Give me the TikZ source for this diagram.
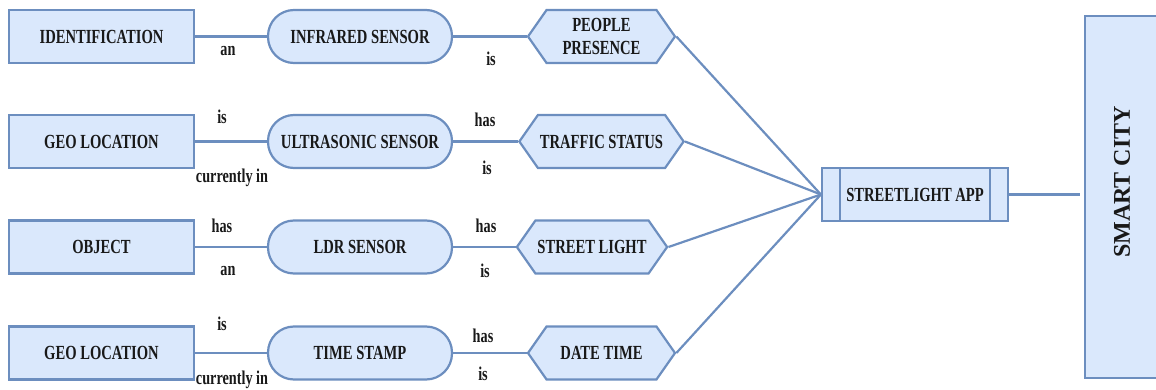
\documentclass[tikz,border=0pt]{standalone}
\usepackage{fontspec}
\usetikzlibrary{shapes.symbols}
\newfontfamily\diagfont{Liberation Serif}[FakeStretch=0.73]
\newfontfamily\cityfont{Liberation Serif}
\definecolor{boxfill}{HTML}{DAE8FC}
\definecolor{boxline}{HTML}{6C8EBF}
\tikzset{
  base/.style={draw=boxline, fill=boxfill, line width=2.2pt, inner sep=2pt,
    font=\diagfont\fontsize{20}{21}\selectfont\bfseries, text=black!90},
  plainbox/.style={base, rectangle, minimum width=185pt, minimum height=53pt},
  sensor/.style={base, rectangle, rounded corners=26pt, minimum width=184pt, minimum height=53pt},
  hexa/.style={base, signal, signal to=west and east, signal pointer angle=110,
    minimum width=147pt, minimum height=53pt, align=center},
  appbox/.style={base, rectangle, minimum width=186pt, minimum height=53pt},
  link/.style={draw=boxline, line width=2.2pt},
  lbl/.style={font=\diagfont\fontsize{19.5}{20}\selectfont\bfseries, text=black!90, inner sep=0pt},
}
\begin{document}
\begin{tikzpicture}[x=1pt,y=-1pt]
\useasboundingbox (0,0) rectangle (1156,390);

% left column: subjects
\node[plainbox] (r1) at (101.5,36.5) {IDENTIFICATION};
\node[plainbox] (r2) at (101.5,141.5) {GEO LOCATION};
\node[plainbox] (r3) at (101.5,247) {OBJECT};
\node[plainbox] (r4) at (101.5,353) {GEO LOCATION};

% middle column: sensors
\node[sensor] (s1) at (360,36.5) {INFRARED SENSOR};
\node[sensor] (s2) at (360,141.5) {ULTRASONIC SENSOR};
\node[sensor] (s3) at (360,247) {LDR SENSOR};
\node[sensor] (s4) at (360,353) {TIME STAMP};

% readings
\node[hexa] (h1) at (601.5,36.5) {PEOPLE\\[2pt]PRESENCE};
\node[hexa] (h2) at (601.5,141.5) {TRAFFIC STATUS};
\node[hexa, minimum width=148pt] (h3) at (592,247) {STREET LIGHT};
\node[hexa] (h4) at (601.5,353) {DATE TIME};

% application
\node[appbox] (app) at (915,194.5) {STREETLIGHT APP};
\draw[link, line width=1.5pt] ([xshift=19pt]app.north west) -- ([xshift=19pt]app.south west);
\draw[link, line width=1.5pt] ([xshift=-19pt]app.north east) -- ([xshift=-19pt]app.south east);

% smart city block
\node[base, rectangle, minimum width=76pt, minimum height=362pt] (city) at (1123,197) {};
\node[rotate=90, font=\cityfont\fontsize{24}{24}\selectfont\bfseries, text=black!90] (citytext) at (1122,182) {SMART CITY};

% connectors
\foreach \i in {1,...,4} {
  \draw[link] (r\i.east) -- (s\i.west);
  \draw[link] (s\i.east) -- (h\i.west);
  \draw[link] (h\i.east) -- (app.west);
}
\draw[link] (app.east) -- ([xshift=-4pt]city.west |- app.east);

% connector labels
\node[lbl] (l1) at (228,51) {an};
\node[lbl] (l2) at (222,117) {is};
\node[lbl] (l3) at (232,178) {currently in};
\node[lbl] (l4) at (222,226) {has};
\node[lbl] (l5) at (228,271) {an};
\node[lbl] (l6) at (222,324) {is};
\node[lbl] (l7) at (232,380) {currently in};

\node[lbl] (m1) at (491,59) {is};
\node[lbl] (m2) at (485,120) {has};
\node[lbl] (m3) at (487,168) {is};
\node[lbl] (m4) at (486,226) {has};
\node[lbl] (m5) at (485,271) {is};
\node[lbl] (m6) at (483,336) {has};
\node[lbl] (m7) at (483,374) {is};
\end{tikzpicture}
\end{document}
